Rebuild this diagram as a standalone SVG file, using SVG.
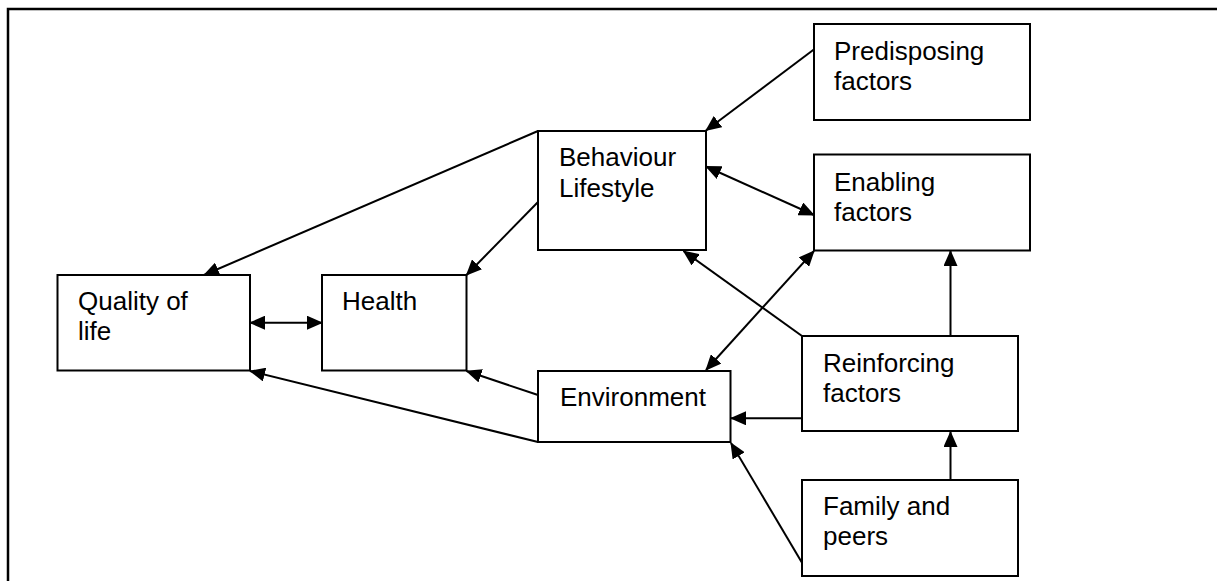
<svg xmlns="http://www.w3.org/2000/svg" width="1217" height="581" viewBox="0 0 1217 581">
<defs>
<style>
.box{fill:#fff;stroke:#000;stroke-width:2}
.lbl{font-family:"Liberation Sans",Arial,sans-serif;font-size:26px;fill:#000}
.con{stroke:#000;stroke-width:2;fill:none}
.frame{stroke:#000;stroke-width:2.5;fill:none}
</style>
<marker id="ah" viewBox="0 0 16 14" refX="15" refY="7" markerWidth="16" markerHeight="14" markerUnits="userSpaceOnUse" orient="auto-start-reverse">
<path d="M0,0 L16,7 L0,14 z" fill="#000"/>
</marker>
</defs>
<rect width="1217" height="581" fill="#fff"/>
<path class="frame" d="M8,581 L8,9 L1217,9"/>

<g id="connectors">
<line class="con" x1="538" y1="131" x2="204" y2="275" marker-end="url(#ah)"/>
<line class="con" x1="538" y1="202" x2="466.5" y2="275" marker-end="url(#ah)"/>
<line class="con" x1="814.5" y1="49" x2="706" y2="130.5" marker-end="url(#ah)"/>
<line class="con" x1="706" y1="166.5" x2="814" y2="215" marker-start="url(#ah)" marker-end="url(#ah)"/>
<line class="con" x1="250" y1="322.7" x2="322" y2="322.7" marker-start="url(#ah)" marker-end="url(#ah)"/>
<line class="con" x1="538" y1="442" x2="250" y2="371" marker-end="url(#ah)"/>
<line class="con" x1="538" y1="395" x2="466.5" y2="371" marker-end="url(#ah)"/>
<line class="con" x1="802" y1="336" x2="683.5" y2="251" marker-end="url(#ah)"/>
<line class="con" x1="814" y1="251" x2="706" y2="370" marker-start="url(#ah)" marker-end="url(#ah)"/>
<line class="con" x1="950.5" y1="336" x2="950.5" y2="251" marker-end="url(#ah)"/>
<line class="con" x1="802" y1="418.3" x2="731" y2="418.3" marker-end="url(#ah)"/>
<line class="con" x1="950.5" y1="480" x2="950.5" y2="432" marker-end="url(#ah)"/>
<line class="con" x1="802" y1="562.7" x2="731" y2="443" marker-end="url(#ah)"/>
</g>

<g id="predisposing">
<rect class="box" x="814" y="24" width="216" height="96"/>
<text class="lbl" x="834" y="60">Predisposing</text>
<text class="lbl" x="834" y="90">factors</text>
</g>
<g id="behaviour">
<rect class="box" x="538" y="131" width="168" height="119"/>
<text class="lbl" x="559" y="165.5">Behaviour</text>
<text class="lbl" x="559" y="197">Lifestyle</text>
</g>
<g id="enabling">
<rect class="box" x="814" y="154.5" width="216" height="96"/>
<text class="lbl" x="834" y="191">Enabling</text>
<text class="lbl" x="834" y="221">factors</text>
</g>
<g id="quality">
<rect class="box" x="57.5" y="275" width="192.5" height="95.5"/>
<text class="lbl" x="78" y="310">Quality of</text>
<text class="lbl" x="78" y="340">life</text>
</g>
<g id="health">
<rect class="box" x="322" y="275" width="144.5" height="95.5"/>
<text class="lbl" x="342" y="310">Health</text>
</g>
<g id="environment">
<rect class="box" x="538" y="371" width="192.5" height="71"/>
<text class="lbl" x="560" y="405.5">Environment</text>
</g>
<g id="reinforcing">
<rect class="box" x="802" y="336" width="216" height="95"/>
<text class="lbl" x="823" y="371.5">Reinforcing</text>
<text class="lbl" x="823" y="401.5">factors</text>
</g>
<g id="family">
<rect class="box" x="802" y="480" width="216" height="96"/>
<text class="lbl" x="823" y="515">Family and</text>
<text class="lbl" x="823" y="545">peers</text>
</g>
</svg>
